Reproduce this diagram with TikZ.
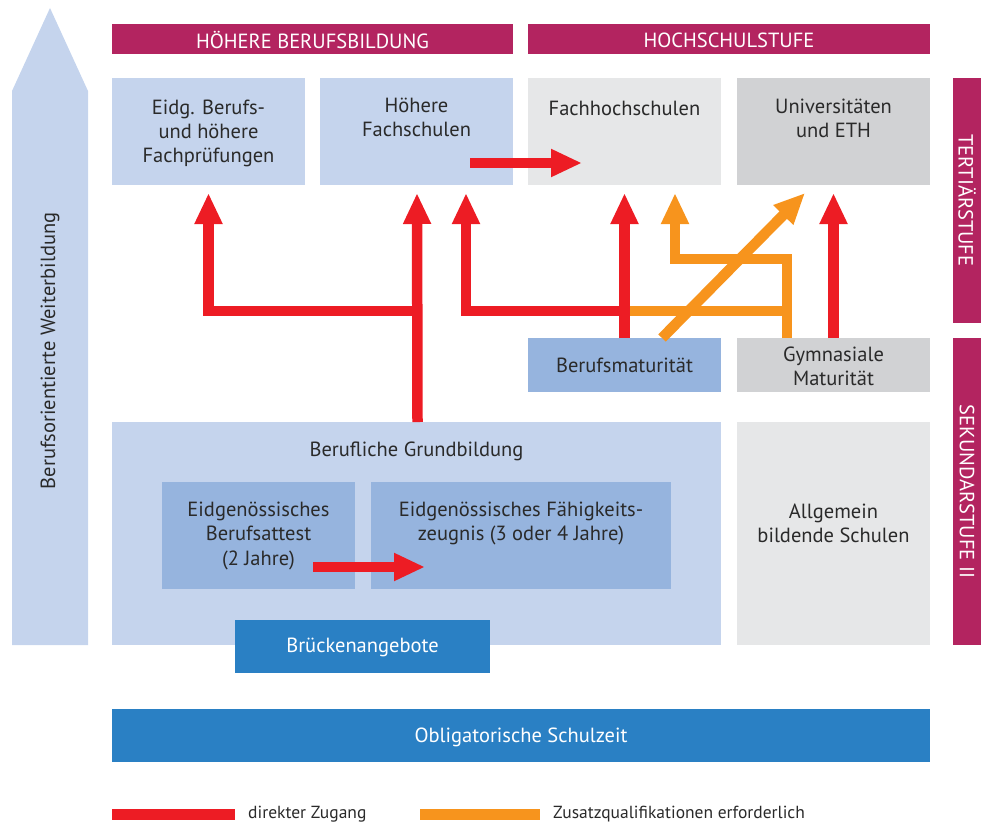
\documentclass[tikz,border=0pt]{standalone}
\usepackage{fontspec}
\setmainfont{PT Sans}
\usetikzlibrary{arrows.meta,calc}
\definecolor{mag}{HTML}{B32460}
\definecolor{lb}{HTML}{C5D4ED}
\definecolor{mb}{HTML}{96B4DE}
\definecolor{db}{HTML}{2A80C4}
\definecolor{lg}{HTML}{E6E7E8}
\definecolor{mg}{HTML}{D1D2D4}
\definecolor{rd}{HTML}{ED1C24}
\definecolor{og}{HTML}{F7941D}
\definecolor{tx}{HTML}{2A2A2A}
\newcommand{\fs}{\fontsize{20.5}{24.2}\selectfont}
\newcommand{\fl}{\fontsize{17.5}{20}\selectfont}
\begin{document}
\begin{tikzpicture}[x=1pt,y=-1pt,
  box/.style={draw=none,inner sep=0pt,outer sep=0pt},
  txt/.style={font=\fs,text=tx,align=center,inner sep=0pt},
  wtxt/.style={font=\fs,text=white,align=center,inner sep=0pt},
  redarr/.style={draw=rd,line width=10.5pt,line join=miter,-{Triangle[length=31pt,width=26pt]}},
  orgarr/.style={draw=og,line width=10.5pt,line join=miter,-{Triangle[length=31pt,width=26pt]}},
  redln/.style={draw=rd,line width=10.5pt,line join=miter},
  orgln/.style={draw=og,line width=10.5pt,line join=miter}]
\useasboundingbox (0,0) rectangle (981,824);

% left arrow
\fill[lb] (12,645) -- (12,91) -- (50,8) -- (88,91) -- (88,645) -- cycle;
\node[txt,rotate=90] (lefttxt) at (50,351) {Berufsorientierte Weiterbildung};

% headers
\node[box,fill=mag,minimum width=401pt,minimum height=30pt] (hbb) at (312.5,39) {};
\node[wtxt] (hbbt) at (312.5,40) {HÖHERE BERUFSBILDUNG};
\node[box,fill=mag,minimum width=402pt,minimum height=30pt] (hss) at (729,39) {};
\node[wtxt] (hsst) at (729,40) {HOCHSCHULSTUFE};

% side bars
\node[box,fill=mag,minimum width=28pt,minimum height=245pt] (tert) at (967,200.5) {};
\node[wtxt,rotate=-90] (tertt) at (967,200.5) {TERTIÄRSTUFE};
\node[box,fill=mag,minimum width=28pt,minimum height=307pt] (sek) at (967,491.5) {};
\node[wtxt,rotate=-90] (sekt) at (967,491.5) {SEKUNDARSTUFE II};

% top boxes
\node[box,fill=lb,minimum width=193pt,minimum height=107pt] (epf) at (208.5,131.5) {};
\node[txt,anchor=north] (epft) at (208.5,99.5) {Eidg. Berufs-\\und höhere\\Fachprüfungen};
\node[box,fill=lb,minimum width=193pt,minimum height=107pt] (hfs) at (416.5,131.5) {};
\node[txt,anchor=north] (hfst) at (416.5,98) {Höhere\\Fachschulen};
\node[box,fill=lg,minimum width=193pt,minimum height=107pt] (fh) at (624.5,131.5) {};
\node[txt,anchor=north] (fht) at (624.5,100.5) {Fachhochschulen};
\node[box,fill=mg,minimum width=193pt,minimum height=107pt] (uni) at (833.5,131.5) {};
\node[txt,anchor=north] (unit) at (833.5,99) {Universitäten\\und ETH};

% maturity boxes
\node[box,fill=mb,minimum width=193pt,minimum height=54pt] (bm) at (624.5,365) {};
\node[txt] (bmt) at (624.5,365) {Berufsmaturität};
\node[box,fill=mg,minimum width=193pt,minimum height=54pt] (gm) at (833.5,365) {};
\node[txt] (gmt) at (833.5,366) {Gymnasiale\\Maturität};

% secondary
\node[box,fill=lb,minimum width=609pt,minimum height=223pt] (grund) at (416.5,533.5) {};
\node[txt,anchor=north] (grundt) at (416.5,442) {Berufliche Grundbildung};
\node[box,fill=mb,minimum width=193pt,minimum height=107pt] (eba) at (258.5,535.5) {};
\node[txt,anchor=north] (ebat) at (258.5,502) {Eidgenössisches\\Berufsattest\\(2 Jahre)};
\node[box,fill=mb,minimum width=300pt,minimum height=107pt] (efz) at (521,535.5) {};
\node[txt,anchor=north] (efzt) at (521,502) {Eidgenössisches Fähigkeits-\\zeugnis (3 oder 4 Jahre)};
\node[box,fill=lg,minimum width=193pt,minimum height=223pt] (abs) at (833.5,533.5) {};
\node[txt] (abst) at (833.5,523) {Allgemein\\bildende Schulen};
\node[box,fill=db,minimum width=255pt,minimum height=53pt] (bru) at (362.5,646.5) {};
\node[wtxt] (brut) at (362.5,647) {Brückenangebote};
\node[box,fill=db,minimum width=818pt,minimum height=53pt] (obl) at (521,735.5) {};
\node[wtxt] (oblt) at (521,737) {Obligatorische Schulzeit};

% connectors
% orange from Gymnasiale Maturitaet
\draw[orgln] ([xshift=-46.5pt]gm.north) |- ([yshift=27pt]bm.north);
\draw[orgarr] ([xshift=-46.5pt,yshift=27pt]gm.north) |- ([xshift=50.5pt,yshift=79pt]bm.north) -- ([xshift=50.5pt,yshift=-8pt]fh.south);
% red from Berufliche Grundbildung
\draw[redarr] ([xshift=1pt]grund.north) -- ([xshift=0.5pt,yshift=-8pt]hfs.south);
\draw[redarr] ([xshift=1pt,yshift=111pt]grund.north) -| ([yshift=-8pt]epf.south);
% red from Berufsmaturitaet
\draw[redarr] (bm.north) -- ([yshift=-8pt]fh.south);
\draw[redarr] ([yshift=27pt]bm.north) -| ([xshift=49.5pt,yshift=-8pt]hfs.south);
% orange diagonal
\draw[orgarr] ([xshift=37.5pt]bm.north) -- ([xshift=-28.5pt,yshift=-8pt]uni.south);
% red from Gymnasiale Maturitaet
\draw[redarr] (gm.north) -- ([yshift=-8pt]uni.south);
% red inside boxes
\draw[redarr] ([xshift=53.5pt,yshift=-31.5pt]hfs.center) -- ([xshift=-42.5pt,yshift=-31.5pt]fh.center);
\draw[redarr] ([xshift=54.5pt,yshift=-31.5pt]eba.center) -- ([xshift=-96pt,yshift=-31.5pt]efz.center);

% legend
\coordinate (l1a) at (112,814);
\coordinate (l1b) at (235,814);
\coordinate (l2a) at (420,814);
\coordinate (l2b) at (540,814);
\draw[redln,line width=11pt] (l1a) -- (l1b);
\node[font=\fl,text=tx,anchor=west,inner sep=0pt] (leg1) at (248,814) {direkter Zugang};
\draw[orgln,line width=11pt] (l2a) -- (l2b);
\node[font=\fl,text=tx,anchor=west,inner sep=0pt] (leg2) at (553,814) {Zusatzqualifikationen erforderlich};
\end{tikzpicture}
\end{document}
